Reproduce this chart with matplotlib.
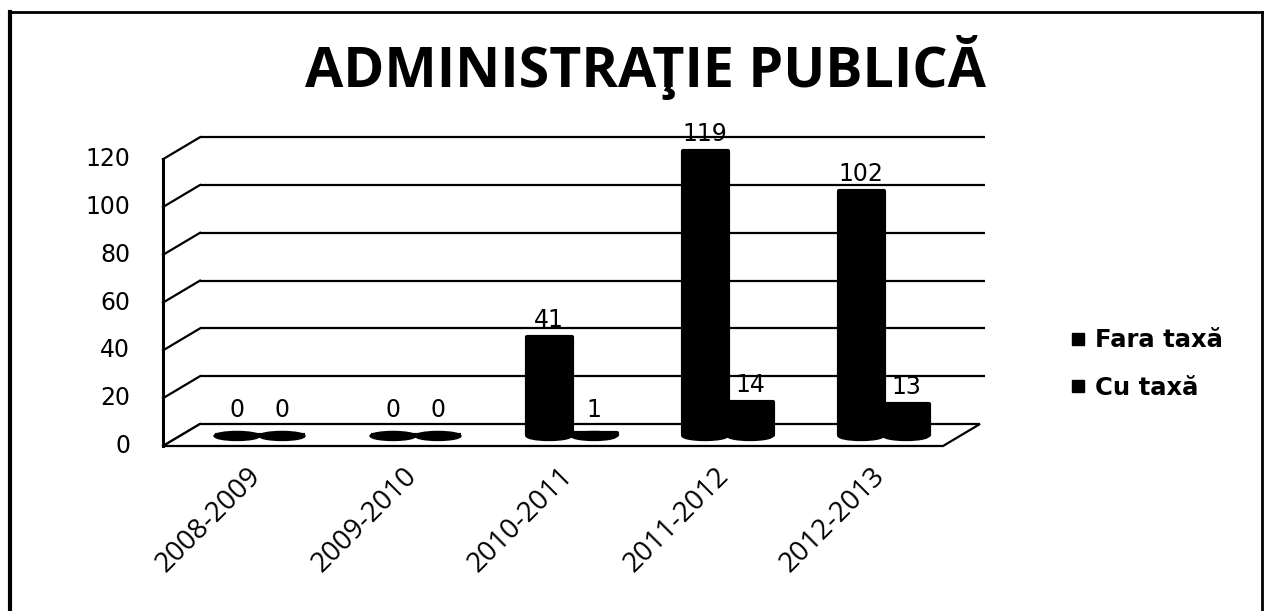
import matplotlib
matplotlib.use('Agg')
import matplotlib.pyplot as plt
from matplotlib.patches import Ellipse, Polygon
from matplotlib.lines import Line2D

# ---- data ----
categories = ['2008-2009', '2009-2010', '2010-2011', '2011-2012', '2012-2013']
fara_taxa = [0, 0, 41, 119, 102]
cu_taxa = [0, 0, 1, 14, 13]
y_ticks = [0, 20, 40, 60, 80, 100, 120]
series_names = ['Fara taxă', 'Cu taxă']
title_text = 'ADMINISTRAŢIE PUBLICĂ'

# ---- layout (pixels) ----
W, H = 1270, 611
X0, XS = 259.5, 156.0   # px of category-0 centre in bar plane, px per category
Y0, YS = 435.0, 2.39    # px of value 0 in bar plane, px per unit
DX, DY = 18.5 / XS, 11.0 / YS   # depth offset (front = -, back = +)
BW = 45.0 / XS

fig = plt.figure(figsize=(W / 100, H / 100), dpi=100)
ax = fig.add_axes([0, 0, 1, 1])
ax.set_xlim((0 - X0) / XS, (W - X0) / XS)
ax.set_ylim((Y0 - H) / YS, Y0 / YS)
ax.axis('off')


def px(xp, yp):
    return (xp - X0) / XS, (Y0 - yp) / YS


n = len(categories)
left, right = -0.5, n - 0.5
ymax = y_ticks[-1]

# back wall gridlines
for v in y_ticks[1:]:
    ax.plot([left + DX, right + DX + 0.03], [v + DY, v + DY], color='black', lw=1.6, zorder=1,
            solid_capstyle='butt')
# side wall diagonals
for v in y_ticks:
    ax.plot([left - DX, left + DX], [v - DY, v + DY], color='black', lw=1.6, zorder=1)
ax.plot([left - DX, left - DX], [-DY, ymax - DY], color='black', lw=2.2, zorder=1)

# floor
floor = Polygon([(left - DX, -DY), (right - DX, -DY), (right + DX, DY), (left + DX, DY)],
                closed=True, facecolor='white', edgecolor='black', lw=1.6, zorder=2)
ax.add_patch(floor)

# bars
xs = list(range(n))
xf = [x - BW / 2 for x in xs]
xc = [x + BW / 2 for x in xs]
for xpos, vals in ((xf, fara_taxa), (xc, cu_taxa)):
    ax.bar(xpos, vals, width=BW, color='black', edgecolor='black', lw=3,
           joinstyle='round', zorder=3)
    for x, v in zip(xpos, vals):
        ax.add_patch(Ellipse((x, -0.4), BW * 1.02, 9 / YS, facecolor='black',
                             edgecolor='black', lw=1, zorder=3))
        lab_v = max(v, 8 / YS) + 17 / YS
        ax.text(x, lab_v, str(v), ha='center', va='center', fontsize=17,
                family='DejaVu Sans', color='black', zorder=5)

# y tick labels
for v in y_ticks:
    ax.text(px(130, 0)[0], v - DY, str(v), ha='right', va='center', fontsize=17,
            family='DejaVu Sans', color='black')

# category labels
for i, c in enumerate(categories):
    ax.text(i - DX + 6 / XS, px(0, 462)[1], c, rotation=45, rotation_mode='anchor',
            ha='right', va='top', fontsize=20, family=['Open Sans', 'DejaVu Sans'],
            color='black')

# title
ax.text(px(645, 0)[0], px(0, 68)[1], title_text, ha='center', va='center',
        fontsize=40, fontweight='bold', family=['Open Sans', 'DejaVu Sans'], color='black')

# legend
handles = [Line2D([], [], marker='s', color='black', ls='', markersize=9) for _ in series_names]
ax.legend(handles, series_names, loc='center left', bbox_to_anchor=(1044 / W, 1 - 364 / H),
          frameon=False, handletextpad=0.2, labelspacing=0.95, handlelength=1.0,
          prop={'family': 'DejaVu Sans', 'weight': 'bold', 'size': 17.5})

# outer frame
fig.add_artist(Line2D([10 / W, 10 / W], [0, 1 - 12 / H], color='black', lw=3))
fig.add_artist(Line2D([10 / W, 1262 / W], [1 - 12 / H, 1 - 12 / H], color='black', lw=2))
fig.add_artist(Line2D([1262 / W, 1262 / W], [0, 1 - 12 / H], color='black', lw=2))

fig.savefig('out.png', dpi=100, facecolor='white')
